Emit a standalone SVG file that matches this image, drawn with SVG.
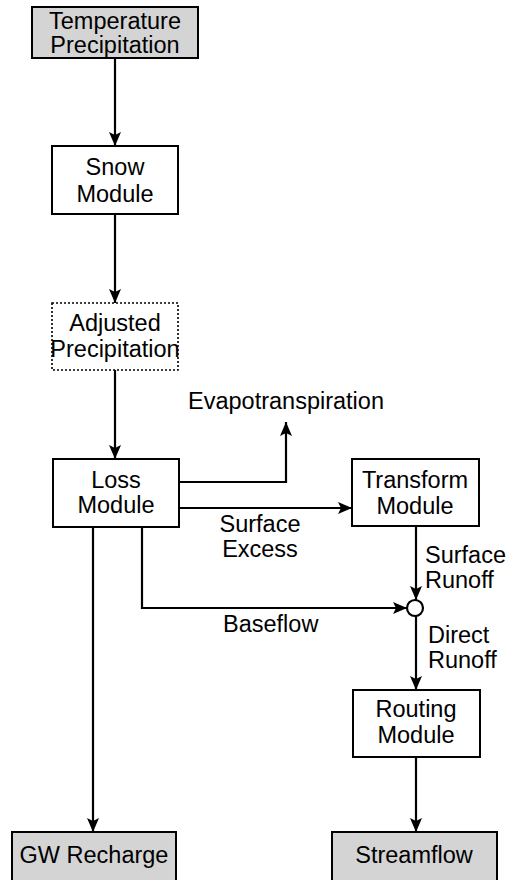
<svg xmlns="http://www.w3.org/2000/svg" width="506" height="880" viewBox="0 0 506 880">
<defs>
<marker id="arr" viewBox="0 0 14 12" refX="14" refY="6" markerWidth="14" markerHeight="12" markerUnits="userSpaceOnUse" orient="auto">
<path d="M0,0 L14,6 L0,12 L3,6 Z" fill="#000"/>
</marker>
<style>
.box{fill:#fff;stroke:#000;stroke-width:2}
.gray{fill:#d4d4d4;stroke:#000;stroke-width:2}
.dot{fill:#fff;stroke:#000;stroke-width:1.6;stroke-dasharray:2 2}
.t{font-family:"Liberation Sans",Arial,sans-serif;font-size:23.5px;fill:#000}
.m{text-anchor:middle}
.c{fill:none;stroke:#000;stroke-width:2.2}
</style>
</defs>
<rect width="506" height="880" fill="#fff"/>
<g id="connectors">
<line class="c" x1="115" y1="58" x2="115" y2="146" marker-end="url(#arr)"/>
<line class="c" x1="115" y1="214" x2="115" y2="303" marker-end="url(#arr)"/>
<line class="c" x1="115" y1="370" x2="115" y2="459" marker-end="url(#arr)"/>
<polyline class="c" points="179,482 286,482 286,422" marker-end="url(#arr)"/>
<line class="c" x1="179" y1="508" x2="352" y2="508" marker-end="url(#arr)"/>
<line class="c" x1="416" y1="526" x2="416" y2="600" marker-end="url(#arr)"/>
<polyline class="c" points="142,527 142,608 407,608" marker-end="url(#arr)"/>
<line class="c" x1="416" y1="616" x2="416" y2="690" marker-end="url(#arr)"/>
<line class="c" x1="416" y1="757" x2="416" y2="832" marker-end="url(#arr)"/>
<line class="c" x1="93" y1="527" x2="93" y2="832" marker-end="url(#arr)"/>
<circle cx="415" cy="608" r="8" fill="#fff" stroke="#000" stroke-width="2.2"/>
<text class="t" x="188" y="409">Evapotranspiration</text>
<text class="t m" x="260" y="532">Surface</text>
<text class="t m" x="260" y="557">Excess</text>
<text class="t" x="425" y="563">Surface</text>
<text class="t" x="425" y="588">Runoff</text>
<text class="t" x="223" y="632">Baseflow</text>
<text class="t" x="428" y="643">Direct</text>
<text class="t" x="428" y="668">Runoff</text>
</g>
<g id="temp">
<rect class="gray" x="32" y="7" width="166" height="51"/>
<text class="t m" x="115" y="29">Temperature</text>
<text class="t m" x="115" y="53">Precipitation</text>
</g>
<g id="snow">
<rect class="box" x="52" y="146" width="126" height="68"/>
<text class="t m" x="115" y="175">Snow</text>
<text class="t m" x="115" y="202">Module</text>
</g>
<g id="adjusted">
<rect class="dot" x="52" y="303" width="126" height="67"/>
<text class="t m" x="115" y="331">Adjusted</text>
<text class="t m" x="115" y="357">Precipitation</text>
</g>
<g id="loss">
<rect class="box" x="53" y="459" width="126" height="68"/>
<text class="t m" x="116" y="488">Loss</text>
<text class="t m" x="116" y="513">Module</text>
</g>
<g id="transform">
<rect class="box" x="352" y="459" width="127" height="67"/>
<text class="t m" x="415" y="488">Transform</text>
<text class="t m" x="415" y="514">Module</text>
</g>
<g id="routing">
<rect class="box" x="353" y="690" width="127" height="67"/>
<text class="t m" x="416" y="717">Routing</text>
<text class="t m" x="416" y="743">Module</text>
</g>
<g id="gw">
<rect class="gray" x="12" y="832" width="164" height="60"/>
<text class="t m" x="94" y="863">GW Recharge</text>
</g>
<g id="streamflow">
<rect class="gray" x="332" y="832" width="165" height="60"/>
<text class="t m" x="414" y="863">Streamflow</text>
</g>
</svg>
